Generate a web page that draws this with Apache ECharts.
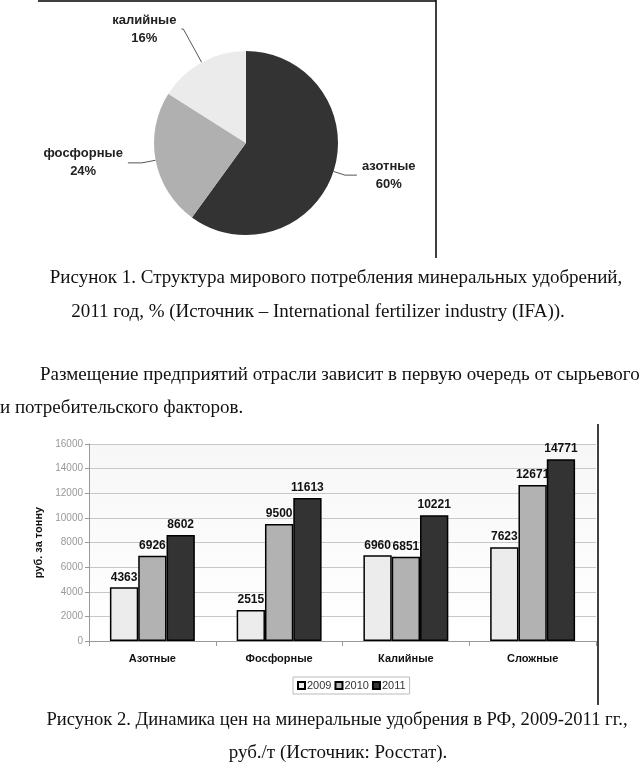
<!DOCTYPE html>
<html><head><meta charset="utf-8">
<script src="https://cdn.jsdelivr.net/npm/echarts@6/dist/echarts.min.js"></script>
<style>html,body{margin:0;padding:0;background:#fff}#c{width:640px;height:778px}</style>
</head><body><div id="c"></div>
<script>
// Figure 1: world consumption structure, 2011, %
const pieNames = ['азотные', 'фосфорные', 'калийные'];
const pieValues = [60, 24, 16];
// Figure 2: prices, rub per tonne
const categories = ['Азотные', 'Фосфорные', 'Калийные', 'Сложные'];
const years = ['2009', '2010', '2011'];
const prices2009 = [4363, 2515, 6960, 7623];
const prices2010 = [6926, 9500, 6851, 12671];
const prices2011 = [8602, 11613, 10221, 14771];
const yTicks = [0, 2000, 4000, 6000, 8000, 10000, 12000, 14000, 16000];

const pieColors = ['#333333', '#b0b0b0', '#ebebeb'];
const pieLineLen = [[12, 12], [14, 14], [38, 2]];
const barColors = ['#ececec', '#b2b2b2', '#333333'];
const serif = '"Liberation Serif", "DejaVu Serif", serif';
const sans = '"Liberation Sans", Arial, sans-serif';

const chart = echarts.init(document.getElementById('c'), null, {renderer: 'canvas'});
const barData = [prices2009, prices2010, prices2011];

function capText(text, x, y, align, size) {
  return {type: 'text', x: x, y: y, style: {text: text, font: (size || 19) + 'px ' + serif, fill: '#111', align: align || 'center', verticalAlign: 'middle'}};
}

chart.setOption({
  animation: false,
  legend: {
    data: years, left: 293, top: 677, orient: 'horizontal',
    itemWidth: 7, itemHeight: 7, itemGap: 3, icon: 'rect',
    borderColor: '#bbbbbb', borderWidth: 1, padding: [3, 4, 3, 4],
    textStyle: {fontFamily: sans, fontSize: 11, color: '#333', padding: [0, 0, 0, -3]}
  },
  grid: {left: 89, top: 444, right: 44, bottom: 137, show: true, borderWidth: 0,
    backgroundColor: new echarts.graphic.LinearGradient(0, 0, 0, 1, [{offset: 0, color: '#f7f7f7'}, {offset: 1, color: '#ffffff'}])},
  xAxis: {
    type: 'category', data: categories,
    axisLine: {lineStyle: {color: '#999'}},
    axisTick: {show: true, length: 5, lineStyle: {color: '#999'}},
    axisLabel: {fontFamily: sans, fontWeight: 'bold', fontSize: 11, color: '#111', margin: 12}
  },
  yAxis: {
    type: 'value', min: yTicks[0], max: yTicks[yTicks.length - 1], interval: yTicks[1] - yTicks[0],
    name: 'руб. за тонну', nameLocation: 'middle', nameGap: 30, nameRotate: 90,
    nameTextStyle: {fontFamily: sans, fontWeight: 'bold', fontSize: 11, color: '#111'},
    axisLine: {show: true, lineStyle: {color: '#999'}},
    axisTick: {show: true, length: 4, lineStyle: {color: '#999'}},
    axisLabel: {fontFamily: sans, fontSize: 10, color: '#999', margin: 6, formatter: v => String(v)},
    splitLine: {lineStyle: {color: '#c8c8c8'}}
  },
  series: [
    {
      type: 'pie', center: [246, 143], radius: 92, startAngle: 90, clockwise: true,
      data: pieNames.map((n, i) => ({name: n, value: pieValues[i], itemStyle: {color: pieColors[i]},
        labelLine: {length: pieLineLen[i][0], length2: pieLineLen[i][1]}})),
      itemStyle: {borderWidth: 0},
      label: {
        show: true, position: 'outside',
        formatter: p => '{n|' + p.name + '}\n{n|' + Math.round(p.percent) + '%}',
        rich: {n: {align: 'center', fontFamily: sans, fontWeight: 'bold', fontSize: 13, color: '#222', lineHeight: 18}}
      },
      labelLine: {show: true, lineStyle: {color: '#555', width: 1}}
    }
  ].concat(years.map((y, i) => ({
    type: 'bar', name: y, data: barData[i],
    barGap: 0, barCategoryGap: '33%',
    itemStyle: {color: barColors[i], borderColor: '#000', borderWidth: 1.5},
    label: {show: true, position: 'top', distance: 4, fontFamily: sans, fontWeight: 'bold', fontSize: 12, color: '#111'}
  }))),
  graphic: [
    {type: 'line', shape: {x1: 38, y1: 1, x2: 436, y2: 1}, style: {stroke: '#000', lineWidth: 1.5}},
    {type: 'line', shape: {x1: 436, y1: 0, x2: 436, y2: 258}, style: {stroke: '#000', lineWidth: 1.5}},
    {type: 'line', shape: {x1: 598, y1: 424, x2: 598, y2: 705}, style: {stroke: '#000', lineWidth: 1.5}},
    capText('Рисунок 1. Структура мирового потребления минеральных удобрений,', 336, 278),
    capText('2011 год, % (Источник – International fertilizer industry (IFA)).', 318, 312),
    capText('Размещение предприятий отрасли зависит в первую очередь от сырьевого', 40, 375, 'left'),
    capText('и потребительского факторов.', 0, 408, 'left'),
    capText('Рисунок 2. Динамика цен на минеральные удобрения в РФ, 2009-2011 гг.,', 337, 720, 'center', 18.6),
    capText('руб./т (Источник: Росстат).', 338, 753)
  ]
});
</script>
</body></html>
